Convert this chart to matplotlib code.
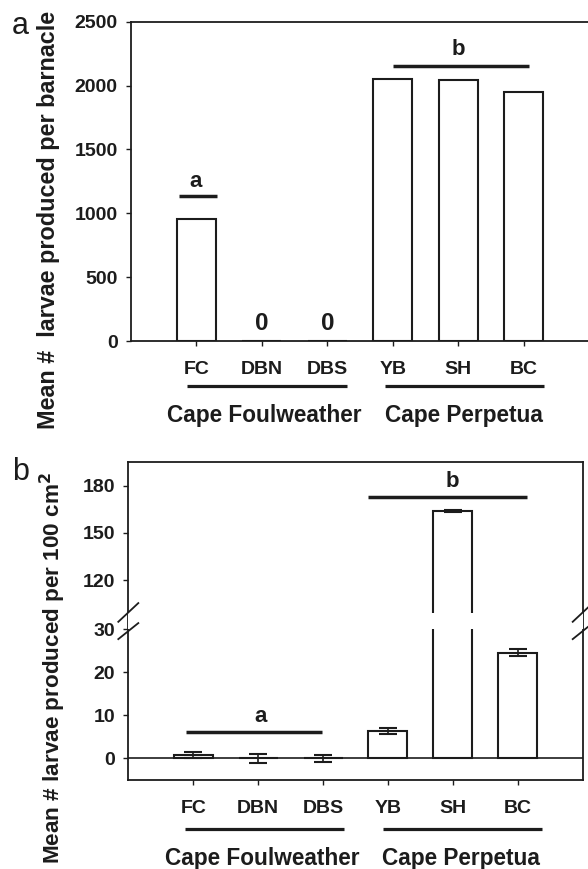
import numpy as np
import matplotlib
matplotlib.use("Agg")
import matplotlib.pyplot as plt
import matplotlib.transforms as mtransforms

# DATA

sites = ["FC", "DBN", "DBS", "YB", "SH", "BC"]
capes = ["Cape Foulweather", "Cape Perpetua"]

larvae_per_barnacle = [953, 0, 0, 2052, 2047, 1947]

larvae_per_area = [0.8, 0.0, 0.0, 6.4, 164.0, 24.6]
larvae_per_area_err = [0.7, 1.0, 0.9, 0.8, 0.5, 0.8]

yticks_a = [0, 500, 1000, 1500, 2000, 2500]
yticks_b = [0, 10, 20, 30, 120, 150, 180]

# STYLE

plt.rcParams['font.family'] = ['Liberation Sans', 'DejaVu Sans']
plt.rcParams['font.weight'] = 'bold'
ink = "#1c1c1c"
W, H = 588, 869

fig = plt.figure(figsize=(W/100, H/100), dpi=100)

x = np.arange(1, len(sites)+1)


def style_axes(ax):
    for s in ax.spines.values():
        s.set_linewidth(1.3)
        s.set_color(ink)
    ax.tick_params(axis='both', direction='out', length=3.5, width=1.0,
                   colors=ink, labelsize=14)
    ax.tick_params(axis='x', pad=11)
    ax.tick_params(axis='y', pad=6)
    for lab in ax.get_xticklabels() + ax.get_yticklabels():
        lab.set_fontweight('bold')


def group_brackets(ax, y_line, y_text, spans, centers):
    tr = mtransforms.blended_transform_factory(ax.transData, ax.transAxes)
    for (x0, x1), xc, name in zip(spans, centers, capes):
        ax.plot([x0, x1], [y_line, y_line], color=ink, lw=2.3,
                transform=tr, clip_on=False, solid_capstyle='butt')
        ax.text(xc, y_text, name, transform=tr, ha='center', va='center',
                fontsize=16.3, fontweight='bold', color=ink)


# PANEL A

ax1 = fig.add_axes([131/W, (H-341)/H, 458/W, 319.3/H])
ax1.bar(x, larvae_per_barnacle, width=0.6, facecolor='white',
        edgecolor=ink, linewidth=1.5, zorder=2)
ax1.set_xlim(0, 7)
ax1.set_ylim(0, 2500)
ax1.set_yticks(yticks_a)
ax1.set_xticks(x)
ax1.set_xticklabels(sites)
style_axes(ax1)

for i, v in enumerate(larvae_per_barnacle):
    if v == 0:
        ax1.text(x[i], 86, "0", ha='center', va='baseline',
                 fontsize=17.5, fontweight='bold', color=ink)

ax1.plot([0.74, 1.31], [1138, 1138], color=ink, lw=2.5,
         solid_capstyle='butt')
ax1.text(0.98, 1206, "a", ha='center', va='baseline', fontsize=16,
         fontweight='bold', color=ink)
ax1.plot([4.0, 6.08], [2151, 2151], color=ink, lw=2.5,
         solid_capstyle='butt')
ax1.text(5.0, 2240, "b", ha='center', va='baseline', fontsize=16,
         fontweight='bold', color=ink)

group_brackets(ax1, -0.140, -0.232, [(0.85, 3.30), (3.88, 6.31)],
               [2.03, 5.09])

fig.text(48.5/W, 1-220/H, "Mean #  larvae produced per barnacle",
         rotation=90, ha='center', va='center', fontsize=16.8,
         fontweight='bold', color=ink)
fig.text(20.5/W, 1-25.7/H, "a", ha='center', va='center', fontsize=22,
         fontweight='normal', color=ink)

# PANEL B  (broken y axis via a piecewise scale)

lo_top, hi_bot = 30.0, 99.2
px_lo = 4.3        # px per unit below the break
px_hi = 1.573      # px per unit above the break
h_lo_top = lo_top*px_lo
h_hi_bot = h_lo_top + 16.6

knots_y = np.array([-1e4, lo_top, hi_bot, 1e4])
knots_h = np.array([-1e4*px_lo, h_lo_top, h_hi_bot,
                    h_hi_bot + (1e4 - hi_bot)*px_hi])


def fwd(y):
    return np.interp(y, knots_y, knots_h)


def inv(h):
    return np.interp(h, knots_h, knots_y)


ax2 = fig.add_axes([128.3/W, (H-780)/H, 454.4/W, 318.3/H])
ax2.set_yscale('function', functions=(fwd, inv))
ax2.bar(x, larvae_per_area, width=0.6, facecolor='white',
        edgecolor=ink, linewidth=1.5, zorder=2)
ax2.errorbar(x, larvae_per_area, yerr=larvae_per_area_err, fmt='none',
             ecolor=ink, elinewidth=1.2, capsize=6.5, capthick=1.5,
             zorder=3)
ax2.axhline(0, color=ink, lw=1.2, zorder=3)
ax2.axhspan(lo_top, hi_bot, facecolor='white', edgecolor='none', zorder=4)
ax2.set_xlim(0, 7)
ax2.set_ylim(-5, 195.2)
ax2.set_yticks(yticks_b)
ax2.set_xticks(x)
ax2.set_xticklabels(sites)
style_axes(ax2)

ax2.plot([0.89, 2.99], [6.2, 6.2], color=ink, lw=2.5,
         solid_capstyle='butt', zorder=5)
ax2.text(2.04, 8.5, "a", ha='center', va='baseline', fontsize=16,
         fontweight='bold', color=ink)
ax2.plot([3.70, 6.14], [172.6, 172.6], color=ink, lw=2.5,
         solid_capstyle='butt', zorder=5)
ax2.text(4.99, 179.3, "b", ha='center', va='baseline', fontsize=16,
         fontweight='bold', color=ink)

# break marks on both side spines
trb = mtransforms.blended_transform_factory(ax2.transAxes, ax2.transData)
for xs in (0.0, 1.0):
    for h0, h1 in [(h_lo_top + 7.6, h_lo_top + 26.3),
                   (h_lo_top - 9.7, h_lo_top + 6.3)]:
        ax2.plot([xs-0.022, xs+0.022], inv(np.array([h0, h1])),
                 color=ink, lw=1.3, transform=trb, clip_on=False, zorder=6)

group_brackets(ax2, -0.155, -0.246, [(0.88, 3.32), (3.92, 6.37)],
               [2.06, 5.13])

fig.text(53/W, 1-668/H, "Mean # larvae produced per 100 cm$^\\mathbf{2}$",
         rotation=90, ha='center', va='center', fontsize=16.2,
         fontweight='bold', color=ink)
fig.text(20.5/W, 1-472/H, "b", ha='center', va='center', fontsize=22,
         fontweight='normal', color=ink)

fig.savefig("out.png", dpi=100)
